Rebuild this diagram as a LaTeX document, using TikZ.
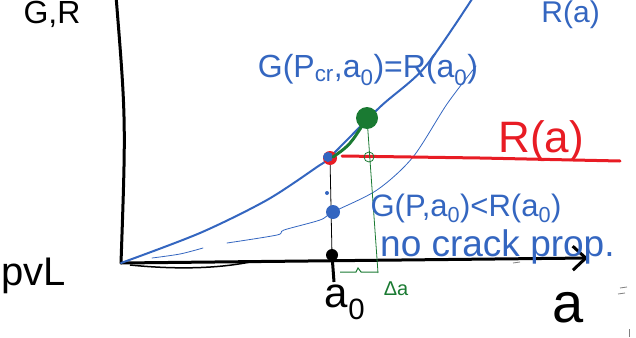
\documentclass[tikz,border=0pt]{standalone}
\usepackage{fontspec}
\setmainfont{Liberation Sans}
\usetikzlibrary{arrows.meta}
\definecolor{penblue}{RGB}{52,102,192}
\definecolor{penred}{RGB}{232,28,36}
\definecolor{pengreen}{RGB}{26,122,50}
\tikzset{
  axis/.style={line width=3pt, line cap=round},
  gline/.style={penblue, line width=2pt, line cap=round},
  thinline/.style={penblue, line width=0.8pt, line cap=round},
  bluetext/.style={penblue, inner sep=0pt},
}
\newcommand{\penfont}[1]{\fontsize{#1}{#1}\selectfont}
\begin{document}
\begin{tikzpicture}[x=1pt,y=-1pt]
    \useasboundingbox (0,0) rectangle (636,337);
    % axes
    \coordinate (O) at (121,263);
    \draw [axis] (116,-4) .. controls (126,120) .. (O);
    \draw [axis,-{Straight Barb[length=13pt,width=24pt]}] (O) -- (588,258);
    \draw [line width=1.5pt] (130,265) .. controls (180,270) and (220,268) .. (250,262);
    % G curves
    \draw [gline] plot[smooth] coordinates {(121,263) (200,233) (267,200) (317,167) (330,157) (380,107) (425,67) (474,-4)};
    \draw [thinline] plot[smooth] coordinates {(152,258) (180,254) (203,248)};
    \draw [thinline] plot[smooth] coordinates {(227,243) (277,235) (284,230) (320,220) (333,212) (377,190) (413,157) (447,104) (476,66)};
    % a0 marker
    \coordinate (a0) at (332,255);
    \coordinate (crit) at (330,158);
    \draw [line width=0.8pt] (crit) -- (a0);
    \draw [line width=3pt] (a0) -- (334,282);
    \fill (a0) circle (6);
    % R line
    \draw [penred, line width=3pt, line cap=round] (342,156) -- (480,158) -- (620,161);
    \fill [penred] (crit) circle (7);
    \fill [penblue] (328,157) circle (5);
    % below critical
    \fill [penblue] (327,193) circle (2);
    \fill [penblue] (333,212) circle (7);
    % green increment
    \coordinate (top) at (367,118);
    \draw [pengreen, line width=3pt, line cap=round] (333,157) .. controls (350,145) .. (top);
    \fill [pengreen] (top) circle (11);
    \draw [pengreen, line width=0.8pt] (top) -- (378,273);
    \draw [pengreen, line width=0.8pt] (369,157) circle (5);
    \draw [pengreen, line width=1pt] (340,272) -- (356,272) -- (358,268) -- (361,272) -- (378,272);
    \node [pengreen, inner sep=0pt] (da) at (396,289) {\penfont{20}Δa};
    % labels
    \node [bluetext] (gcrit) at (368,70) {\penfont{32}G(P\textsubscript{cr},a\textsubscript{0})=R(a\textsubscript{0})};
    \node [penred, inner sep=0pt] (rlabel) at (541,141) {\penfont{44}R(a)};
    \node [bluetext, anchor=base] (gbelow) at (466,216) {\penfont{31}G(P,a\textsubscript{0})<R(a\textsubscript{0})};
    \node [bluetext, anchor=base west] (nocrack) at (380,256) {\penfont{37}no crack prop.};
    \node [inner sep=0pt] (a0label) at (345,302) {\penfont{42}a\textsubscript{0}};
    \node [inner sep=0pt] (alabel) at (568,308) {\penfont{56}a};
    % labels at the edges
    \node [inner sep=0pt, anchor=base] (gr) at (52,24) {\penfont{32}G,R};
    \node [bluetext, anchor=base east] (rtop) at (600,23) {\penfont{30}R(a)};
    \node [inner sep=0pt, anchor=east] (pvl) at (66,276) {\penfont{40}pvL};
    % stray marks
    \draw [gray, line width=0.8pt] (513,263) -- (520,262);
    \draw [gray, line width=0.8pt] (620,288) -- (627,287) (618,294) -- (625,293);
    \draw [gray, line width=0.8pt] (629,329) -- (629,337);
\end{tikzpicture}
\end{document}
